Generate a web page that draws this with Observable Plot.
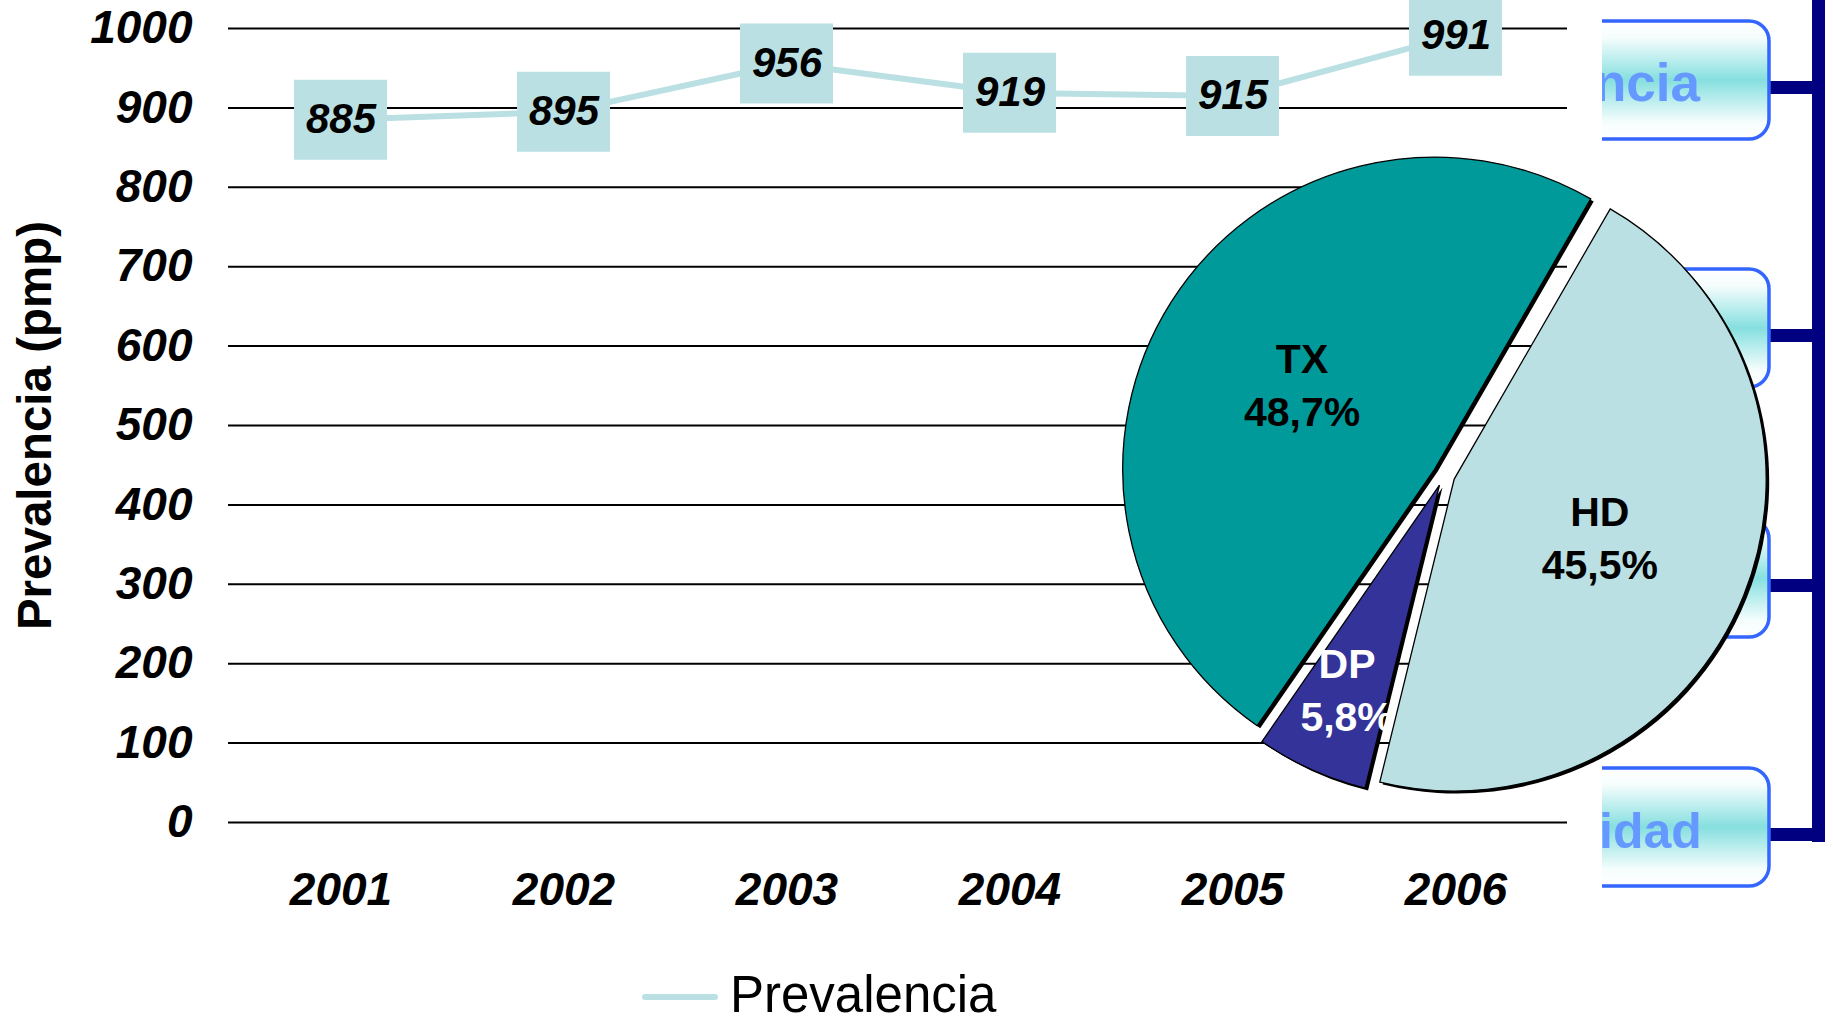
<!DOCTYPE html>
<html>
<head>
<meta charset="utf-8">
<script src="https://cdn.jsdelivr.net/npm/d3@7"></script>
<script src="https://cdn.jsdelivr.net/npm/@observablehq/plot@0.6"></script>
<style>
  html, body { margin: 0; padding: 0; background: #fff; }
  #chart { position: relative; width: 1833px; height: 1022px; overflow: hidden;
           font-family: "Liberation Sans", Arial, sans-serif; }
  #chart svg { display: block; }
</style>
</head>
<body>
<div id="chart"></div>
<script>
// ---------------- data ----------------
const years = ["2001", "2002", "2003", "2004", "2005", "2006"];
const prevalence = [885, 895, 956, 919, 915, 991];
const yTicks = [0, 100, 200, 300, 400, 500, 600, 700, 800, 900, 1000];
const seriesName = "Prevalencia";
const yTitle = "Prevalencia (pmp)";

// pie (clockwise from the TX/HD boundary)
const pieNames = ["HD", "DP", "TX"];
const piePercents = [45.5, 5.8, 48.7];
const pieColors = ["#bae0e3", "#343399", "#009a9a"];
const pieTextColors = ["#000000", "#ffffff", "#000000"];

// partially hidden slide boxes on the right
const sideBoxTexts = ["ncia", "", "", "idad"];

// ---------------- styles ----------------
const lineColor = "#bae0e3";
const font = "'Liberation Sans', Arial, Helvetica, sans-serif";

const rows = years.map((y, i) => ({ year: y, value: prevalence[i] }));

// ---------------- custom marks ----------------
function sideDecor() {
  const g = d3.create("svg:g");
  const defs = g.append("defs");
  const grad = defs.append("linearGradient").attr("id", "boxGrad")
    .attr("x1", 0).attr("y1", 0).attr("x2", 0).attr("y2", 1);
  [[0, "#ffffff"], [0.14, "#f6fdfd"], [0.5, "#86dfdf"], [0.86, "#f6fdfd"], [1, "#ffffff"]]
    .forEach(([o, c]) => grad.append("stop").attr("offset", o).attr("stop-color", c));
  defs.append("clipPath").attr("id", "boxClip")
    .append("rect").attr("x", 1602).attr("y", -10).attr("width", 300).attr("height", 1100);

  const navy = "#000080";
  const boxTops = [21, 269, 519, 768];
  const boxH = 118, boxRight = 1769;
  // vertical bar
  g.append("rect").attr("x", 1812).attr("y", -10).attr("width", 13).attr("height", 852).attr("fill", navy);
  // connectors
  boxTops.forEach(t => {
    g.append("rect").attr("x", boxRight).attr("y", t + boxH / 2 + 1)
      .attr("width", 1825 - boxRight).attr("height", 13).attr("fill", navy);
  });
  const bg = g.append("g").attr("clip-path", "url(#boxClip)");
  boxTops.forEach((t, i) => {
    bg.append("rect").attr("x", 1400).attr("y", t).attr("width", boxRight - 1400).attr("height", boxH)
      .attr("rx", 20).attr("ry", 20)
      .attr("fill", "url(#boxGrad)").attr("stroke", "#3366ff").attr("stroke-width", 3.5);
    if (sideBoxTexts[i]) {
      bg.append("text").attr("x", i === 3 ? 1599 : 1700).attr("y", t + 80)
        .attr("text-anchor", i === 3 ? "start" : "end")
        .attr("font-family", font).attr("font-weight", "bold").attr("font-size", i === 3 ? 50 : 53)
        .attr("fill", "#6699ff").text(sideBoxTexts[i]);
    }
  });
  return g.node();
}

function pieMark() {
  const cx = 1444, cy = 475, R = 312, explode = 11;
  const data = pieNames.map((n, i) => ({ name: n, v: piePercents[i], color: pieColors[i], tc: pieTextColors[i] }));
  const start = Math.PI / 6;
  const arcs = d3.pie().sort(null).value(d => d.v).startAngle(start).endAngle(start + 2 * Math.PI)(data);
  const arc = d3.arc().innerRadius(0).outerRadius(R);
  const g = d3.create("svg:g");
  const placed = arcs.map(a => {
    const mid = (a.startAngle + a.endAngle) / 2;
    return { a, mid, ox: cx + explode * Math.sin(mid), oy: cy - explode * Math.cos(mid) };
  });
  // shadows
  placed.forEach(p => {
    g.append("path").attr("d", arc(p.a)).attr("fill", "#000")
      .attr("transform", `translate(${p.ox + 3},${p.oy + 2.5})`);
  });
  // slices
  placed.forEach(p => {
    g.append("path").attr("d", arc(p.a)).attr("fill", p.a.data.color)
      .attr("stroke", "#000").attr("stroke-width", 1.3).attr("stroke-linejoin", "miter")
      .attr("transform", `translate(${p.ox},${p.oy})`);
  });
  // labels
  placed.forEach(p => {
    const lr = p.a.data.name === "DP" ? 225 : 157;
    const x = p.ox + lr * Math.sin(p.mid), y = p.oy - lr * Math.cos(p.mid);
    const pct = p.a.data.v.toFixed(1).replace(".", ",") + "%";
    [[p.a.data.name, -26.5], [pct, 26.5]].forEach(([t, off]) => {
      g.append("text").attr("x", x).attr("y", y + off).attr("dy", "0.36em")
        .attr("text-anchor", "middle").attr("font-family", font)
        .attr("font-weight", "bold").attr("font-size", 41)
        .attr("fill", p.a.data.tc).text(t);
    });
  });
  return g.node();
}

// ---------------- plot ----------------
const W = 1833, H = 950;
const chart = Plot.plot({
  width: W,
  height: H,
  marginLeft: 228,
  marginRight: W - 1567,
  marginTop: 28,
  marginBottom: 128,
  style: { fontFamily: font, background: "white", overflow: "visible" },
  x: { type: "band", domain: years, padding: 0, label: null },
  y: { domain: [0, 1000], label: null },
  marks: [
    () => sideDecor(),
    Plot.ruleY(yTicks, { stroke: "#000", strokeWidth: 2 }),
    Plot.axisY({ ticks: yTicks, tickSize: 0, tickPadding: 36, tickFormat: d3.format("d"),
      fontSize: 46, fontWeight: "bold", fontStyle: "italic", label: null }),
    Plot.axisX({ tickSize: 0, tickPadding: 50, fontSize: 46, fontWeight: "bold", fontStyle: "italic", label: null }),
    Plot.text([yTitle], { frameAnchor: "left", dx: -193, rotate: -90, fontSize: 47.5,
      fontWeight: "bold", textAnchor: "middle", fill: "#000" }),
    Plot.line(rows, { x: "year", y: "value", stroke: lineColor, strokeWidth: 6 }),
    Plot.tickY(rows, { x: "year", y: "value", stroke: lineColor, strokeWidth: 80, insetLeft: 65, insetRight: 65 }),
    Plot.text(rows, { x: "year", y: "value", text: d => String(d.value), fontSize: 42,
      fontWeight: "bold", fontStyle: "italic", fill: "#000" }),
    () => pieMark()
  ]
});
document.getElementById("chart").appendChild(chart);

// ---------------- legend (below the plot) ----------------
const leg = d3.create("svg").attr("width", W).attr("height", 1022 - H);
leg.append("line").attr("x1", 645).attr("x2", 715).attr("y1", 47).attr("y2", 47)
  .attr("stroke", lineColor).attr("stroke-width", 6).attr("stroke-linecap", "round");
leg.append("text").attr("x", 730).attr("y", 62).attr("font-family", font).attr("font-size", 51)
  .attr("fill", "#000").text(seriesName);
document.getElementById("chart").appendChild(leg.node());
</script>
</body>
</html>
